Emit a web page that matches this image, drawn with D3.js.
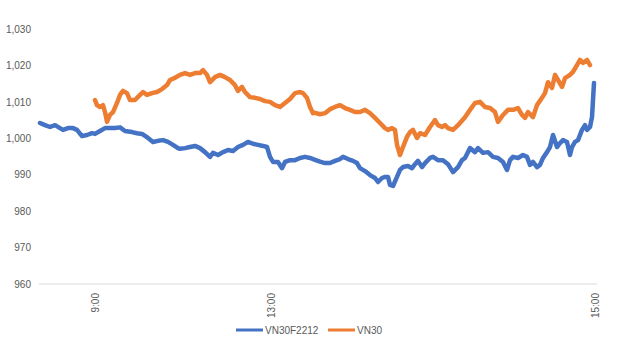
<!DOCTYPE html>
<html><head><meta charset="utf-8">
<script src="https://cdn.jsdelivr.net/npm/d3@7"></script>
<style>
html,body{margin:0;padding:0;background:#fff;}
svg{display:block;font-family:"Liberation Sans",Arial,sans-serif;}
</style></head>
<body><svg id="c" width="619" height="346"></svg>
<script>
// Series names
const seriesNames = ["VN30F2212", "VN30"];
// x tick labels and their category positions
const tickLabels = ["9:00", "13:00", "15:00"];
const tickPositions = [56, 232, 556];
const yTicks = [960, 970, 980, 990, 1000, 1010, 1020, 1030];

// VN30F2212 : category position
const futIdx = [1,6,11,16,21,24,29,34,38,43,48,53,56,61,66,71,76,81,86,93,98,103,109,114,119,124,129,134,139,
141,146,151,156,161,166,171,174,179,184,189,194,199,204,209,214,219,224,228,231,234,239,243,246,251,256,261,266,271,
276,281,286,291,296,301,304,309,314,318,321,326,331,336,339,343,346,349,351,354,358,361,364,369,373,376,379,383,386,391,394,399,404,409,414,
419,423,426,431,436,439,444,449,454,459,464,468,471,474,479,484,488,491,494,498,501,504,508,511,514,518,521,524,528,531,533,536,539,543,546,548,551,553,555];
const futVal = [1004.2,1003.6,1003.1,1003.6,1002.8,1002.3,1002.8,1002.8,1002.3,1000.6,1000.9,1001.4,1001.2,1002.0,1002.8,1002.8,1002.8,1003.0,1002.0,1001.7,1001.4,1001.2,1000.1,999.0,999.3,999.5,999.0,998.2,997.3,
997.1,997.3,997.6,997.9,997.3,996.2,994.9,996.0,995.4,996.2,996.8,996.5,997.6,998.2,999.0,998.5,998.2,997.9,997.6,994.9,993.5,993.5,991.8,993.5,994.0,994.0,994.6,994.9,994.6,
994.1,993.6,993.2,993.2,993.8,994.3,994.9,994.3,993.8,993.2,991.8,991.0,989.9,989.1,988.0,989.1,989.4,989.4,987.2,986.9,989.4,991.3,992.1,992.4,991.8,992.9,993.8,992.1,993.2,994.6,994.9,994.0,994.0,992.9,990.7,
992.1,994.0,994.6,997.3,996.2,997.3,996.0,996.2,994.9,994.6,993.5,991.3,994.0,994.9,994.6,995.4,994.9,992.7,993.5,992.1,992.7,994.6,996.2,997.6,1000.9,997.6,998.7,999.5,999.0,995.4,997.6,999.0,999.5,1002.3,1003.6,1002.3,1003.1,1005.8,1015.2];

// VN30 : category position
const idxIdx = [56,58,61,64,66,68,71,74,78,81,84,88,91,96,101,104,108,113,118,123,128,131,136,141,146,151,156,161,164,168,171,176,181,186,191,196,199,203,206,211,216,221,226,231,236,241,246,251,256,261,264,268,271,274,
276,281,286,291,296,301,306,311,316,321,326,331,336,341,346,349,353,356,358,361,364,368,371,374,378,381,386,391,396,399,403,406,409,414,
419,426,431,436,441,446,451,456,459,464,469,474,479,483,486,489,494,498,503,506,509,513,516,519,523,526,531,534,538,541,544,548,551];
const idxVal = [1010.5,1009.1,1008.6,1009.1,1007.2,1004.5,1006.4,1007.2,1009.7,1011.9,1013.0,1012.4,1010.5,1010.5,1011.9,1012.7,1011.9,1012.4,1012.7,1013.5,1014.6,1016.0,1016.6,1017.4,1017.9,1017.4,1017.9,1017.9,1018.7,1017.4,1015.4,1016.8,1017.4,1016.8,1016.0,1014.6,1013.0,1014.1,1012.7,1011.3,1011.1,1010.8,1010.2,1010.0,1009.1,1008.6,1009.7,1010.8,1012.4,1012.7,1012.4,1011.1,1008.6,1006.9,
1007.0,1006.6,1006.9,1008.0,1008.6,1009.1,1008.3,1007.8,1007.2,1007.2,1007.8,1006.9,1005.6,1004.2,1002.8,1002.3,1002.8,1002.3,998.2,995.4,997.6,1000.4,1001.7,1002.3,1000.1,1001.4,1000.9,1003.1,1005.0,1003.6,1003.1,1003.6,1002.8,1002.3,
1003.6,1005.8,1007.8,1009.7,1010.0,1008.6,1008.3,1007.2,1004.5,1006.4,1007.8,1007.8,1008.3,1006.4,1005.6,1007.2,1005.8,1009.1,1011.1,1012.4,1015.4,1013.8,1017.4,1016.0,1014.1,1016.5,1017.4,1018.2,1020.1,1021.5,1020.7,1021.5,1020.1];

const colors = ["#4472C4", "#ED7D31"];
const textColor = "#595959";

const svg = d3.select("#c");
const x = d3.scaleLinear().domain([0, 558]).range([39, 597]);
const y = d3.scaleLinear().domain([960, 1030]).range([284, 29]);

// y axis labels
const yAxis = d3.axisLeft(y).tickValues(yTicks).tickSize(0).tickPadding(0)
  .tickFormat(d3.format(","));
const ga = svg.append("g").attr("transform", "translate(31,0)").call(yAxis);
ga.select(".domain").remove();
ga.selectAll("text").attr("fill", textColor).style("font-size", "10px")
  .style("font-family", '"Liberation Sans",Arial,sans-serif');

// baseline
svg.append("line").attr("x1", x(0)).attr("x2", x(558))
  .attr("y1", y(960)).attr("y2", y(960))
  .attr("stroke", "#D9D9D9").attr("stroke-width", 1);

// x labels
const xg = svg.append("g");
tickLabels.forEach((t, i) => {
  xg.append("text")
    .attr("transform", `translate(${x(tickPositions[i])},293) rotate(-90)`)
    .attr("text-anchor", "end").attr("dy", "0.35em")
    .attr("fill", textColor).style("font-size", "10px").text(t);
});

const line = d3.line().x(d => x(d[0])).y(d => y(d[1])).curve(d3.curveLinear);
const fut = futIdx.map((v, i) => [v, futVal[i]]);
const idx = idxIdx.map((v, i) => [v, idxVal[i]]);
[fut, idx].forEach((data, i) => {
  svg.append("path").datum(data).attr("d", line)
    .attr("fill", "none").attr("stroke", colors[i])
    .attr("stroke-width", 4.5).attr("stroke-linejoin", "round").attr("stroke-linecap", "round");
});

// legend
const leg = svg.append("g");
const legX = [236, 328];
seriesNames.forEach((n, i) => {
  leg.append("line").attr("x1", legX[i]).attr("x2", legX[i] + 27)
    .attr("y1", 330).attr("y2", 330).attr("stroke", colors[i]).attr("stroke-width", 3);
  leg.append("text").attr("x", legX[i] + 29).attr("y", 330).attr("dy", "0.35em")
    .attr("fill", textColor).style("font-size", "10px").text(n);
});
</script></body></html>
